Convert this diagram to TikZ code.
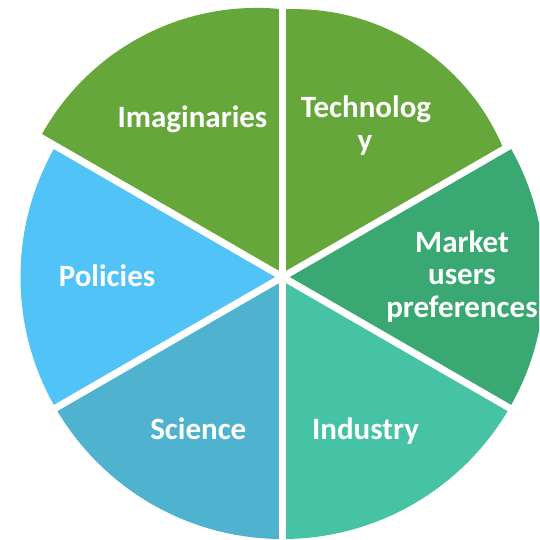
\documentclass[tikz,border=0pt]{standalone}
\usepackage{fontspec}
\setmainfont{Carlito}
\definecolor{cgreen}{HTML}{65A73A}
\definecolor{cmarket}{HTML}{39A872}
\definecolor{cindustry}{HTML}{46C2A5}
\definecolor{cscience}{HTML}{4FB3D0}
\definecolor{cpolicy}{HTML}{52C3F7}
\begin{document}
\begin{tikzpicture}[x=1pt,y=-1pt,
  lbl/.style={text=white,font=\bfseries\fontsize{31}{32.5}\selectfont,inner sep=0pt,anchor=base},
  gap/.style={white,line width=7pt}]
\useasboundingbox (0,0) rectangle (539,540);
\clip (0,0) rectangle (539,540);
\coordinate (C) at (282.5,277);
% Imaginaries
\begin{scope}
\clip (C) -- +(-90:400) -- +(-150:400) -- cycle;
\fill[cgreen] (256.9,253.9) circle[radius=246pt];
\end{scope}
% Technology
\begin{scope}
\clip (C) -- +(-30:400) -- +(-90:400) -- cycle;
\fill[cgreen] (294.5,235.1) circle[radius=226pt];
\end{scope}
% Market
\begin{scope}
\clip (C) -- +(30:400) -- +(-30:400) -- cycle;
\fill[cmarket] (C) circle[radius=262pt];
\end{scope}
% Industry
\begin{scope}
\clip (C) -- +(90:400) -- +(30:400) -- cycle;
\fill[cindustry] (C) circle[radius=262pt];
\end{scope}
% Science
\begin{scope}
\clip (C) -- +(150:400) -- +(90:400) -- cycle;
\fill[cscience] (C) circle[radius=262pt];
\end{scope}
% Policies
\begin{scope}
\clip (C) -- +(210:400) -- +(150:400) -- cycle;
\fill[cpolicy] (C) circle[radius=262pt];
\end{scope}
% gaps
\draw[gap] (C) +(0,-300) -- +(0,300);
\draw[gap] (C) +(30:320) -- +(210:320);
\draw[gap] (C) +(-30:320) -- +(150:320);
% labels
\node[lbl] (imag) at (192.5,128) {Imaginaries};
\node[lbl] (tech1) at (366,118) {Technolog};
\node[lbl] (tech2) at (365,151) {y};
\node[lbl] (mkt1) at (462,252) {Market};
\node[lbl] (mkt2) at (462,284.5) {users};
\node[lbl] (mkt3) at (462,317) {preferences};
\node[lbl] (pol) at (107,286) {Policies};
\node[lbl] (sci) at (198.3,439.3) {Science};
\node[lbl] (ind) at (365.5,439.3) {Industry};
\end{tikzpicture}
\end{document}
